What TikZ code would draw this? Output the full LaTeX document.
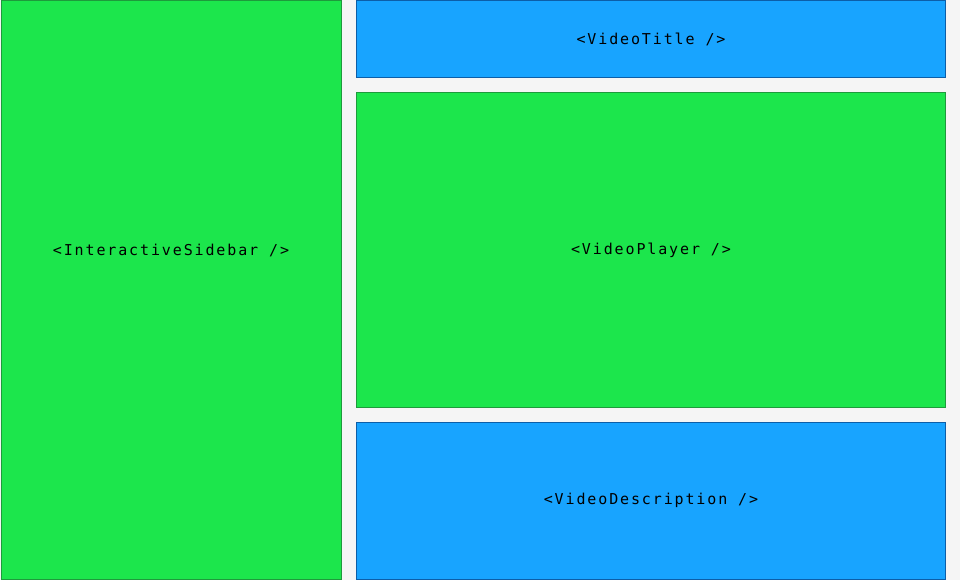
\documentclass[tikz,border=0pt]{standalone}
\usepackage{fontspec}
\setmonofont[LetterSpace=12.5]{DejaVu Sans Mono}
\usetikzlibrary{positioning}

\definecolor{pagebg}{HTML}{F5F5F5}
\definecolor{boxgreen}{HTML}{1CE64C}
\definecolor{edgegreen}{HTML}{1E9A3C}
\definecolor{boxblue}{HTML}{18A4FF}
\definecolor{edgeblue}{HTML}{0C5EA8}

\tikzset{
	panel/.style = {draw, line width = 1pt, anchor = north west, inner sep = 0pt},
	greenpanel/.style = {panel, fill = boxgreen, draw = edgegreen},
	bluepanel/.style = {panel, fill = boxblue, draw = edgeblue},
	tag/.style = {font = \ttfamily\fontsize{15}{18}\selectfont, text = black}
}

\begin{document}
\begin{tikzpicture}[x = 1pt, y = -1pt]%layout
	\fill[pagebg] (0,0) rectangle (960,580);
	\useasboundingbox (0,0) rectangle (960,580);
	\node[greenpanel, minimum width = 340pt, minimum height = 578pt] (sidebar) at (0.5,0.5) {};
	\node[bluepanel, tag, minimum width = 589pt, minimum height = 77pt] (title) at (356,0.5) {<VideoTitle />};
	\node[greenpanel, tag, minimum width = 589pt, minimum height = 315pt, below = 13.5pt of title.south west, anchor = north west] (player) {<VideoPlayer />};
	\node[bluepanel, tag, minimum width = 589pt, minimum height = 157pt, below = 13.5pt of player.south west, anchor = north west] (descr) {<VideoDescription />};
	\node[tag] (sidetag) at (sidebar.center |- player.center) {<InteractiveSidebar />};
\end{tikzpicture}
\end{document}
